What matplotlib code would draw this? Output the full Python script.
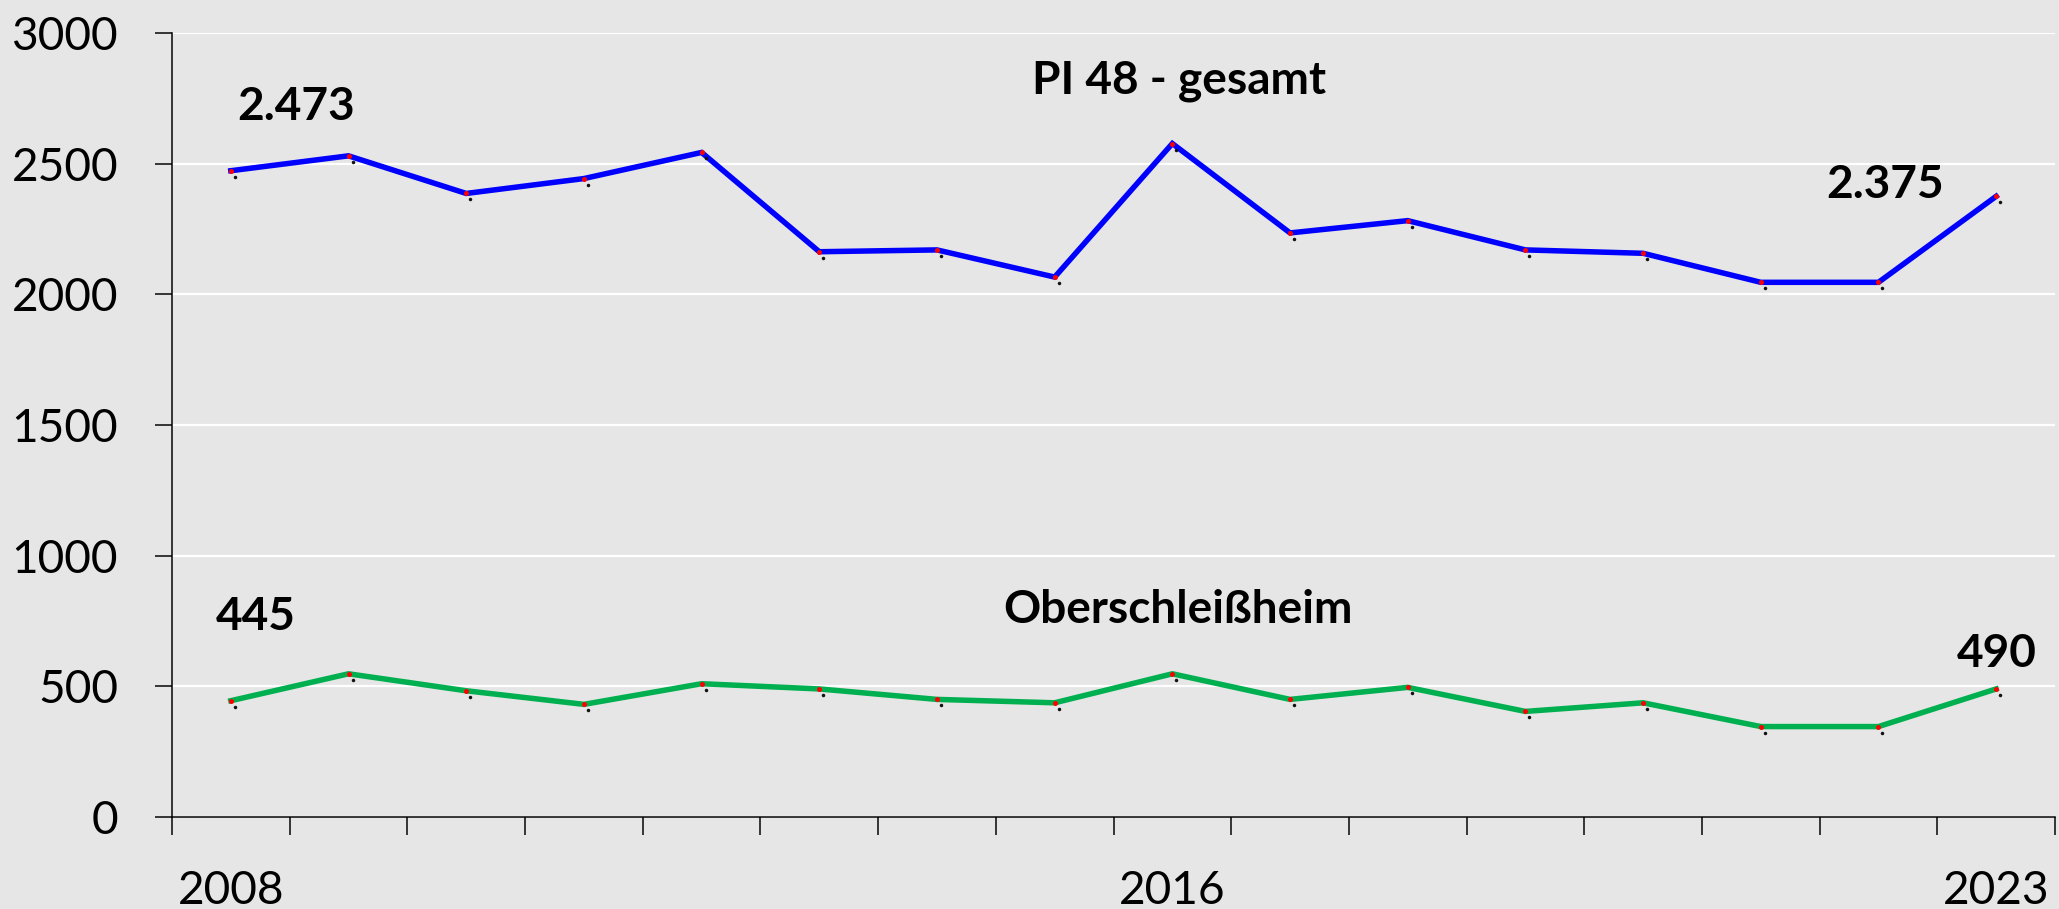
import matplotlib
matplotlib.use("Agg")
import matplotlib.pyplot as plt
import matplotlib.transforms as mtransforms
import numpy as np

years = list(range(2008, 2024))
gesamt = [2473, 2530, 2386, 2443, 2543, 2163, 2170, 2066, 2577, 2235, 2282, 2170, 2157, 2046, 2046, 2375]
obersch = [445, 548, 483, 431, 510, 490, 450, 437, 548, 450, 496, 404, 437, 346, 346, 490]
yticks = [0, 500, 1000, 1500, 2000, 2500, 3000]
xlabel_years = [2008, 2016, 2023]
series_names = ["PI 48 - gesamt", "Oberschleißheim"]

BG = "#e6e6e6"
DPI = 72
fig = plt.figure(figsize=(2059 / DPI, 909 / DPI), dpi=DPI, facecolor=BG)
ax = fig.add_axes([172 / 2059, 1 - 817 / 909, (2055 - 172) / 2059, (817 - 33) / 909])
ax.set_facecolor(BG)

plt.rcParams['font.family'] = ['Lato', 'DejaVu Sans']

x = np.arange(len(years))
ax.set_xlim(-0.5, len(years) - 0.5)
ax.set_ylim(0, 3000)

for vals, col in [(gesamt, "#0000ff"), (obersch, "#00b050")]:
    ax.plot(x, vals, color=col, lw=5.5, solid_joinstyle="miter", zorder=3)
    ax.plot(x, vals, ls="none", marker="o", ms=5, color="#ff0000", mec="none", zorder=4)
    shift = mtransforms.ScaledTranslation(4 / DPI, -6 / DPI, fig.dpi_scale_trans)
    ax.plot(x, vals, ls="none", marker="o", ms=3.5, color="#111111", mec="none", zorder=4,
            transform=ax.transData + shift)

# grid
ax.set_yticks(yticks)
ax.yaxis.grid(True, color="white", lw=2.2)
ax.set_axisbelow(True)
ax.tick_params(axis="y", length=17, width=1.5, pad=37, labelsize=46, color="black")
ax.set_yticklabels([str(v) for v in yticks], fontfamily="Lato")

# x ticks: minor at boundaries, labels at selected centers
ax.set_xticks([years.index(y) for y in xlabel_years])
ax.set_xticklabels([str(y) for y in xlabel_years], fontfamily="Lato")
ax.set_xticks(np.arange(-0.5, len(years)), minor=True)
ax.tick_params(axis="x", which="major", length=0, pad=53, labelsize=46)
ax.tick_params(axis="x", which="minor", length=18, width=1.5, color="black")

for s in ["top", "right"]:
    ax.spines[s].set_visible(False)
for s in ["left", "bottom"]:
    ax.spines[s].set_color("black")
    ax.spines[s].set_linewidth(1.5)

# value labels
def fmt(v):
    return f"{v:,}".replace(",", ".")

labels = [
    (gesamt, 0, (65, 51)),
    (gesamt, 15, (-111, -2)),
    (obersch, 0, (25, 71)),
    (obersch, 15, (1, 22)),
]
for vals, i, off in labels:
    ax.annotate(fmt(vals[i]), xy=(x[i], vals[i]), xytext=off, textcoords="offset points",
                ha="center", va="baseline", fontsize=46, fontweight="bold",
                fontfamily="Lato", color="black", zorder=5)

# series titles
ax.text(8.055, 2769, series_names[0], ha="center", va="baseline", fontsize=46,
        fontweight="bold", fontfamily="Lato")
ax.text(8.05, 741, series_names[1], ha="center", va="baseline", fontsize=46,
        fontweight="bold", fontfamily="Lato")

fig.savefig("out.png", dpi=DPI, facecolor=BG)
